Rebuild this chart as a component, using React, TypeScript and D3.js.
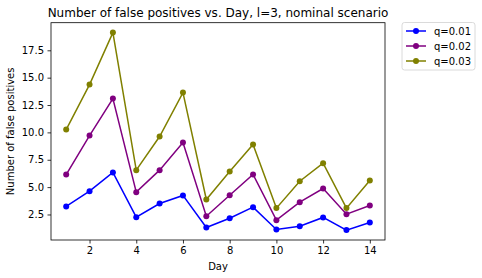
import React, { useEffect, useRef } from 'react';
import * as d3 from 'd3';

// dias y valores
const days = [1, 2, 3, 4, 5, 6, 7, 8, 9, 10, 11, 12, 13, 14];
const q001 = [3.23, 4.63, 6.34, 2.25, 3.5, 4.24, 1.31, 2.16, 3.17, 1.13, 1.43, 2.23, 1.07, 1.77];
const q002 = [6.15, 9.71, 13.09, 4.54, 6.55, 9.08, 2.34, 4.26, 6.15, 1.98, 3.62, 4.87, 2.53, 3.32];
const q003 = [10.26, 14.37, 19.12, 6.55, 9.62, 13.64, 3.87, 6.43, 8.89, 3.08, 5.54, 7.19, 3.08, 5.6];
const seriesNames = ['q=0.01', 'q=0.02', 'q=0.03'];
const seriesColors = ['blue', 'purple', 'olive'];
const xTicks = [2, 4, 6, 8, 10, 12, 14];
const yTicks = [2.5, 5.0, 7.5, 10.0, 12.5, 15.0, 17.5];

function App() {
  const ref = useRef<SVGSVGElement>(null);

  useEffect(() => {
    const W = 482, H = 278;
    const left = 51, right = 385, top = 22.7, bottom = 240;
    const font = 'DejaVu Sans, sans-serif';
    const svg = d3.select(ref.current);
    svg.selectAll('*').remove();
    svg.attr('width', W).attr('height', H);

    const allVals = [...q001, ...q002, ...q003];
    const yMin = d3.min(allVals)!, yMax = d3.max(allVals)!;
    const yPad = (yMax - yMin) * 0.05;
    const x = d3.scaleLinear().domain([1 - 0.65, 14 + 0.65]).range([left, right]);
    const y = d3.scaleLinear().domain([yMin - yPad, yMax + yPad]).range([bottom, top]);

    // ejes
    const xAxis = svg.append('g').attr('transform', `translate(0,${bottom})`)
      .call(d3.axisBottom(x).tickValues(xTicks).tickSize(3.5).tickPadding(3.5).tickFormat(d3.format('d')));
    const yAxis = svg.append('g').attr('transform', `translate(${left},0)`)
      .call(d3.axisLeft(y).tickValues(yTicks).tickSize(3.5).tickPadding(3.5).tickFormat(d3.format('.1f')));
    [xAxis, yAxis].forEach(a => {
      a.select('.domain').remove();
      a.selectAll('text').attr('font-family', font).attr('font-size', 10).attr('fill', '#000');
      a.selectAll('line').attr('stroke', '#000').attr('stroke-width', 0.8);
    });

    // lineas
    const data = [q001, q002, q003];
    const line = d3.line<number>().x((d, i) => x(days[i])).y(d => y(d));
    data.forEach((vals, s) => {
      svg.append('path').datum(vals).attr('d', line).attr('fill', 'none')
        .attr('stroke', seriesColors[s]).attr('stroke-width', 1.5);
      svg.append('g').selectAll('circle').data(vals).enter().append('circle')
        .attr('cx', (d, i) => x(days[i])).attr('cy', d => y(d)).attr('r', 3)
        .attr('fill', seriesColors[s]);
    });

    // marco
    svg.append('rect').attr('x', left).attr('y', top).attr('width', right - left).attr('height', bottom - top)
      .attr('fill', 'none').attr('stroke', '#000').attr('stroke-width', 0.8);

    // textos
    svg.append('text').attr('x', (left + right) / 2).attr('y', 17).attr('text-anchor', 'middle')
      .attr('font-family', font).attr('font-size', 12).text('Number of false positives vs. Day, l=3, nominal scenario');
    svg.append('text').attr('x', (left + right) / 2).attr('y', 270).attr('text-anchor', 'middle')
      .attr('font-family', font).attr('font-size', 10).text('Day');
    svg.append('text').attr('transform', `translate(14,${(top + bottom) / 2}) rotate(-90)`).attr('text-anchor', 'middle')
      .attr('font-family', font).attr('font-size', 10).text('Number of false positives');

    // leyenda
    const lg = svg.append('g').attr('transform', 'translate(402,22.5)');
    lg.append('rect').attr('width', 73).attr('height', 47.5).attr('rx', 2.5)
      .attr('fill', 'white').attr('stroke', '#d0d0d0').attr('stroke-width', 0.8);
    seriesNames.forEach((name, i) => {
      const ly = 8.5 + i * 15;
      lg.append('line').attr('x1', 4).attr('x2', 24).attr('y1', ly).attr('y2', ly)
        .attr('stroke', seriesColors[i]).attr('stroke-width', 1.5);
      lg.append('circle').attr('cx', 14).attr('cy', ly).attr('r', 3).attr('fill', seriesColors[i]);
      lg.append('text').attr('x', 32).attr('y', ly + 3.5).attr('font-family', font).attr('font-size', 10).text(name);
    });
  }, []);

  return <svg ref={ref} style={{ position: 'absolute', left: 0, top: 0 }} />;
}

export default App;
